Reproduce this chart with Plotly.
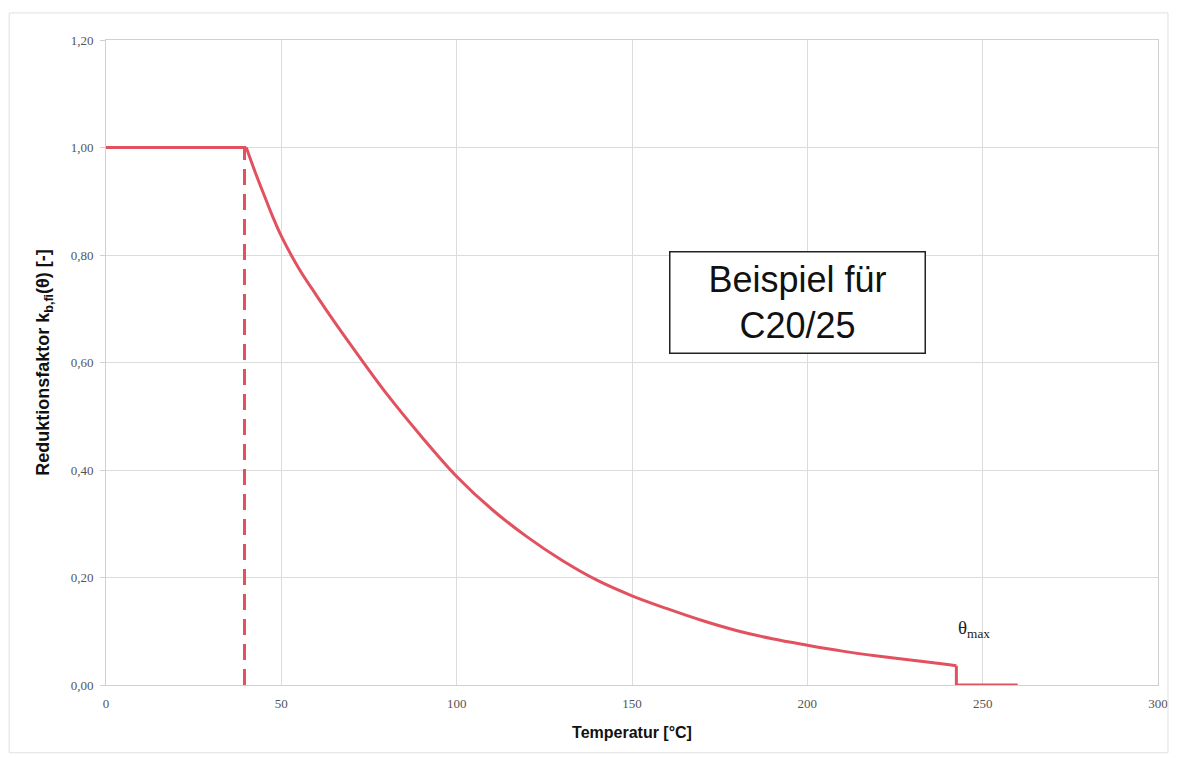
import plotly.graph_objects as go

# Reduction factor k_b,fi(theta)
flat_temp = [0, 40]
flat_factor = [1.00, 1.00]

curve_temp = [40, 42.5, 45, 47.5, 50, 55, 60, 65, 70, 80, 90, 100, 110, 120, 130,
              140, 150, 160, 170, 180, 190, 200, 210, 220, 230, 240, 242.5]
curve_factor = [1.00, 0.955, 0.913, 0.872, 0.835, 0.775, 0.725, 0.677, 0.631, 0.542,
                0.462, 0.388, 0.327, 0.276, 0.232, 0.195, 0.166, 0.142, 0.120, 0.101,
                0.086, 0.074, 0.063, 0.054, 0.046, 0.038, 0.036]

tail_temp = [242.5, 242.5, 260]
tail_factor = [0.036, 0.0, 0.0]

# Dashed vertical marker at start of reduction
dash_temp = [39.5, 39.5]
dash_factor = [0.0, 1.0]

x_ticks = [0, 50, 100, 150, 200, 250, 300]
y_ticks = [0.0, 0.2, 0.4, 0.6, 0.8, 1.0, 1.2]
y_tick_labels = ["0,00", "0,20", "0,40", "0,60", "0,80", "1,00", "1,20"]

red = "#e2515f"

fig = go.Figure()
fig.add_trace(go.Scatter(x=dash_temp, y=dash_factor, mode="lines",
                         line=dict(color=red, width=3, dash="16px,9px"),
                         showlegend=False, hoverinfo="skip"))
fig.add_trace(go.Scatter(x=flat_temp, y=flat_factor, mode="lines",
                         line=dict(color=red, width=3), showlegend=False))
fig.add_trace(go.Scatter(x=curve_temp, y=curve_factor, mode="lines",
                         line=dict(color=red, width=3, shape="spline", smoothing=1.0),
                         showlegend=False))
fig.add_trace(go.Scatter(x=tail_temp, y=tail_factor, mode="lines",
                         line=dict(color=red, width=3), showlegend=False))

tick_font = dict(family="Liberation Serif, serif", size=13, color="#555555")
title_font_x = dict(family="Liberation Sans, Arial, sans-serif", size=16, color="#111")
title_font_y = dict(family="Liberation Sans, Arial, sans-serif", size=18, color="#111")

fig.update_layout(
    width=1171, height=750,
    paper_bgcolor="white", plot_bgcolor="white",
    margin=dict(l=98, r=11, t=32, b=73),
    xaxis=dict(range=[0, 300], tickvals=x_ticks, ticktext=[str(v) for v in x_ticks],
               showgrid=True, gridcolor="#dcdcdc", gridwidth=1,
               showline=True, linecolor="#d0d0d0", mirror=True,
               zeroline=False, tickfont=tick_font, ticklabelstandoff=6,
               ticks="", title=dict(text="<b>Temperatur [°C]</b>", font=title_font_x,
                                    standoff=17)),
    yaxis=dict(range=[0, 1.2], tickvals=y_ticks, ticktext=y_tick_labels,
               showgrid=True, gridcolor="#dcdcdc", gridwidth=1,
               showline=True, linecolor="#d0d0d0", mirror=True,
               zeroline=False, tickfont=tick_font, ticklabelstandoff=4,
               ticks="outside", ticklen=5, tickcolor="#d0d0d0",
               title=dict(text="<b>Reduktionsfaktor k<sub>b,fi</sub>(θ) [-]</b>",
                          font=title_font_y, standoff=16)),
)

fig.add_annotation(x=197.2, y=0.711, xref="x", yref="y",
                   text="Beispiel für<br>C20/25", showarrow=False,
                   font=dict(family="Liberation Sans, Arial, sans-serif", size=36, color="#111"),
                   bordercolor="#222", borderwidth=1.5, borderpad=6,
                   bgcolor="white", width=242, align="center")

fig.add_annotation(x=247.5, y=0.105, xref="x", yref="y",
                   text="θ<sub>max</sub>", showarrow=False,
                   font=dict(family="Liberation Serif, serif", size=19, color="#222"))

# faint outer frame
fig.add_shape(type="rect", xref="paper", yref="paper",
              x0=-0.092, x1=1.0095, y0=-0.105, y1=1.042,
              line=dict(color="#e0e0e0", width=1))

fig.write_html("out.html")
